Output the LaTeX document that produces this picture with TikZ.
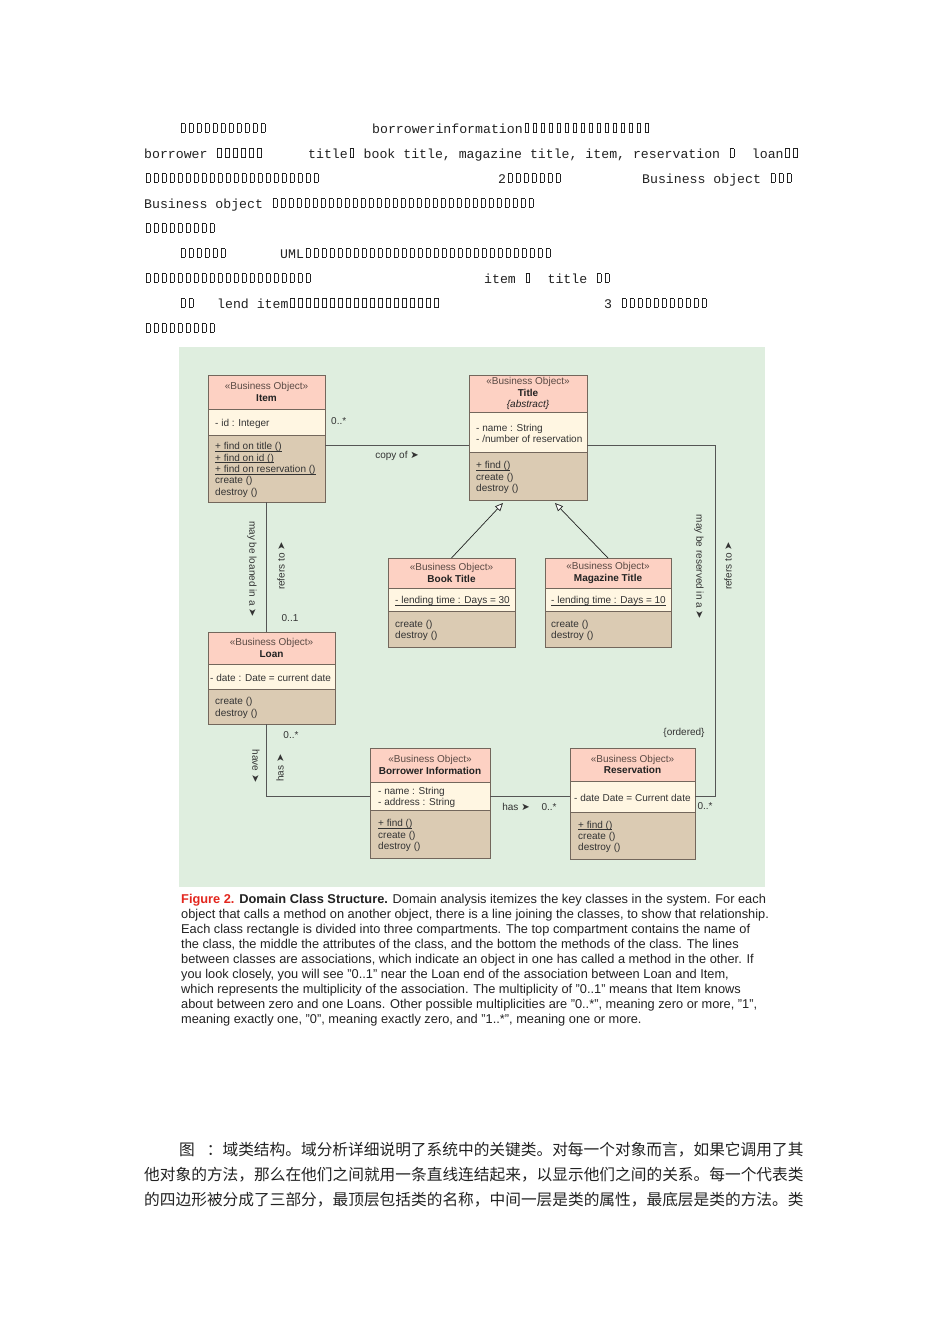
\documentclass[tikz,border=0pt]{standalone}
\usepackage{fontspec}
\setmainfont{Liberation Sans}
\setmonofont{Liberation Mono}
\newfontfamily\cjkfont{Noto Sans CJK SC}
\newfontfamily\glyphfont{DejaVu Sans}
\usetikzlibrary{arrows.meta,positioning}
\definecolor{PageInk}{HTML}{222222}
\definecolor{MemberInk}{HTML}{333333}
\definecolor{StereoInk}{HTML}{5A4A44}
\definecolor{FigRed}{HTML}{E3261E}
\definecolor{PanelGreen}{HTML}{DFEEDF}
\definecolor{HeadPink}{HTML}{FDD1C3}
\definecolor{AttrCream}{HTML}{FFF6E2}
\definecolor{OpsTan}{HTML}{DBCBB3}
\definecolor{BoxEdge}{HTML}{73675C}
\definecolor{LinkInk}{HTML}{555555}
% empty glyph boxes of the scanned paragraph
\newcommand\bx{\hbox to 8pt{\hss\vbox{\hrule height .6pt\hbox{\vrule width .6pt height 8.4pt\kern3.2pt\vrule width .6pt}\hrule height .6pt}\hss}}
\newcommand\bxs[1]{\foreach \k in {1,...,#1}{\bx}}
\newcommand\rtri{{\glyphfont\fontsize{10}{10}\selectfont ➤}}
\newcommand\uln[1]{\setbox0\hbox{#1}\rlap{\rule[-1.6pt]{\wd0}{0.5pt}}\box0}
\tikzset{
  every node/.style={text=PageInk},
  compart/.style={draw=BoxEdge, line width=0.9pt, inner sep=0pt, outer sep=0pt},
  head/.style={compart, fill=HeadPink, align=center, anchor=north west, font=\fontsize{10}{11.4}\selectfont},
  attrs/.style={compart, fill=AttrCream},
  ops/.style={compart, fill=OpsTan},
  member/.style={align=left, inner sep=0pt, anchor=west, yshift=-1.5pt, font=\fontsize{10}{11.4}\selectfont, text=MemberInk},
  assoc/.style={draw=LinkInk, line width=0.9pt},
  inherit/.style={-{Triangle[length=8pt,width=7pt,fill=white]}, draw=PageInk, line width=0.7pt},
  role/.style={font=\fontsize{10}{11}\selectfont, text=MemberInk, inner sep=0pt},
  scan/.style={font=\ttfamily\fontsize{13.2}{16}\selectfont, inner sep=0pt, anchor=base west},
  caption/.style={font=\fontsize{12.8}{15}\selectfont, inner sep=0pt, anchor=base west},
  zhline/.style={font=\cjkfont\fontsize{15.7}{20}\selectfont, inner sep=0pt, anchor=base west},
}
\newcommand\stereo{{\color{StereoInk}«Business Object»}}
\begin{document}
\begin{tikzpicture}[x=1pt,y=-1pt]
  \useasboundingbox (0,0) rectangle (950,1344);
  \fill[white] (0,0) rectangle (950,1344);

  % paragraph above the figure
  \node[scan] (p1a) at (179,133) {\bxs{11}};
  \node[scan] (p1b) at (372,133) {borrowerinformation\bxs{16}};
  \node[scan] (p2a) at (144,158) {borrower \bxs{6}};
  \node[scan] (p2b) at (308,158) {title\bx{} book title, magazine title, item, reservation \bx\ \ loan\bx\bx};
  \node[scan] (p3a) at (144,183) {\bxs{22}};
  \node[scan] (p3b) at (498,183) {2\bxs{7}};
  \node[scan] (p3c) at (642,183) {Business object \bxs{3}};
  \node[scan] (p4a) at (144,208) {Business object \bxs{33}};
  \node[scan] (p5a) at (144,233) {\bxs{9}};
  \node[scan] (p6a) at (179,258) {\bxs{6}};
  \node[scan] (p6b) at (280,258) {UML\bxs{31}};
  \node[scan] (p7a) at (144,283) {\bxs{21}};
  \node[scan] (p7b) at (484,283) {item \bx\ \ title \bx\bx};
  \node[scan] (p8a) at (179,308) {\bx\bx};
  \node[scan] (p8b) at (217,308) {lend item\bxs{19}};
  \node[scan] (p8c) at (604,308) {3 \bxs{11}};
  \node[scan] (p9a) at (144,333) {\bxs{9}};

  % figure panel
  \fill[PanelGreen] (179,347) rectangle (765,887);

  % Item
  \node[head, minimum width=117pt, minimum height=34pt] (itemH) at (208,375) {\stereo\\\textbf{Item}};
  \node[attrs, minimum width=117pt, minimum height=26pt, below=0pt of itemH] (itemA) {};
  \node[ops, minimum width=117pt, minimum height=67pt, below=0pt of itemA] (itemM) {};
  \node[member, right=7pt of itemA.west] {- id : Integer};
  \node[member, right=7pt of itemM.west] {\uln{+ find on title ()}\\\uln{+ find on id ()}\\\uln{+ find on reservation ()}\\create ()\\destroy ()};

  % Title
  \node[head, minimum width=118pt, minimum height=37pt] (titleH) at (469,375) {\stereo\\\textbf{Title}\\\textit{\{abstract\}}};
  \node[attrs, minimum width=118pt, minimum height=40pt, below=0pt of titleH] (titleA) {};
  \node[ops, minimum width=118pt, minimum height=48pt, below=0pt of titleA] (titleM) {};
  \node[member, right=7pt of titleA.west] {- name : String\\- /number of reservation};
  \node[member, right=7pt of titleM.west] {\uln{+ find ()}\\create ()\\destroy ()};

  % Book Title
  \node[head, minimum width=127pt, minimum height=30pt] (bookH) at (388,558) {\stereo\\\textbf{Book Title}};
  \node[attrs, minimum width=127pt, minimum height=23pt, below=0pt of bookH] (bookA) {};
  \node[ops, minimum width=127pt, minimum height=36pt, below=0pt of bookA] (bookM) {};
  \node[member, right=7pt of bookA.west] {\uln{- lending time : Days = 30}};
  \node[member, right=7pt of bookM.west] {create ()\\destroy ()};

  % Magazine Title
  \node[head, minimum width=126pt, minimum height=30pt] (magH) at (545,558) {\stereo\\\textbf{Magazine Title}};
  \node[attrs, minimum width=126pt, minimum height=23pt, below=0pt of magH] (magA) {};
  \node[ops, minimum width=126pt, minimum height=36pt, below=0pt of magA] (magM) {};
  \node[member, right=6pt of magA.west] {\uln{- lending time : Days = 10}};
  \node[member, right=6pt of magM.west] {create ()\\destroy ()};

  % Loan
  \node[head, minimum width=127pt, minimum height=32pt] (loanH) at (208,632) {\stereo\\\textbf{Loan}};
  \node[attrs, minimum width=127pt, minimum height=25pt, below=0pt of loanH] (loanA) {};
  \node[ops, minimum width=127pt, minimum height=35pt, below=0pt of loanA] (loanM) {};
  \node[member, right=2pt of loanA.west] {- date : Date = current date};
  \node[member, right=7pt of loanM.west] {create ()\\destroy ()};

  % Borrower Information
  \node[head, minimum width=120pt, minimum height=34pt] (borH) at (370,748) {\stereo\\\textbf{Borrower Information}};
  \node[attrs, minimum width=120pt, minimum height=28pt, below=0pt of borH] (borA) {};
  \node[ops, minimum width=120pt, minimum height=48pt, below=0pt of borA] (borM) {};
  \node[member, right=8pt of borA.west] {- name : String\\- address : String};
  \node[member, right=8pt of borM.west] {\uln{+ find ()}\\create ()\\destroy ()};

  % Reservation
  \node[head, minimum width=125pt, minimum height=33pt] (resH) at (570,748) {\stereo\\\textbf{Reservation}};
  \node[attrs, minimum width=125pt, minimum height=31pt, below=0pt of resH] (resA) {};
  \node[ops, minimum width=125pt, minimum height=47pt, below=0pt of resA] (resM) {};
  \node[member, right=4pt of resA.west] {- date Date = Current date};
  \node[member, right=8pt of resM.west] {\uln{+ find ()}\\create ()\\destroy ()};

  % associations
  \draw[assoc] ([yshift=-10pt]itemM.north east) -- ([yshift=-10pt]itemM.north east -| titleA.west);
  \draw[assoc] (itemM.south) -- (itemM.south |- loanH.north);
  \draw[assoc] (itemM.south |- loanM.south) |- (borA.west);
  \draw[assoc] (borA.east) -- (borA.east -| resA.west);
  \draw[assoc] ([yshift=7pt]titleA.south east) -- ++(128,0) |- (resA.east);

  % generalisations
  \draw[inherit] (bookH.north) -- ([xshift=-25pt,yshift=-3pt]titleM.south);
  \draw[inherit] (magH.north) -- ([xshift=27pt,yshift=-3pt]titleM.south);

  % role names and multiplicities
  \node[role, anchor=west] (mItem) at (331,421) {0..*};
  \node[role] (copyOf) at (397,456) {copy of \rtri};
  \node[role, rotate=-90] (loanedIn) at (252,569) {may be loaned in a \rtri};
  \node[role, rotate=90] (refersA) at (281,566) {refers to \rtri};
  \node[role] (mLoan) at (290,618) {0..1};
  \node[role] (mLoanB) at (291,735) {0..*};
  \node[role, rotate=-90] (have) at (256,766) {have \rtri};
  \node[role, rotate=90] (hasA) at (280,768) {has \rtri};
  \node[role] (hasB) at (516,807) {has \rtri};
  \node[role] (mRes) at (549,807) {0..*};
  \node[role] (mResB) at (705,806) {0..*};
  \node[role] (ordered) at (684,733) {\{ordered\}};
  \node[role, rotate=-90] (reservedIn) at (699,567) {may be reserved in a \rtri};
  \node[role, rotate=90] (refersB) at (728,566) {refers to \rtri};

  % caption
  \node[caption] (c1) at (181,903) {{\color{FigRed}\bfseries Figure 2.} {\bfseries Domain Class Structure.} Domain analysis itemizes the key classes in the system. For each};
  \node[caption] (c2) at (181,918) {object that calls a method on another object, there is a line joining the classes, to show that relationship.};
  \node[caption] (c3) at (181,933) {Each class rectangle is divided into three compartments. The top compartment contains the name of};
  \node[caption] (c4) at (181,948) {the class, the middle the attributes of the class, and the bottom the methods of the class. The lines};
  \node[caption] (c5) at (181,963) {between classes are associations, which indicate an object in one has called a method in the other. If};
  \node[caption] (c6) at (181,978) {you look closely, you will see "0..1" near the Loan end of the association between Loan and Item,};
  \node[caption] (c7) at (181,993) {which represents the multiplicity of the association. The multiplicity of "0..1" means that Item knows};
  \node[caption] (c8) at (181,1008) {about between zero and one Loans. Other possible multiplicities are "0..*", meaning zero or more, "1",};
  \node[caption] (c9) at (181,1023) {meaning exactly one, "0", meaning exactly zero, and "1..*", meaning one or more.};

  % Chinese paragraph below
  \node[zhline] (z1) at (179,1155) {图\hspace{12pt}：域类结构。域分析详细说明了系统中的关键类。对每一个对象而言，如果它调用了其};
  \node[zhline] (z2) at (144,1180) {他对象的方法，那么在他们之间就用一条直线连结起来，以显示他们之间的关系。每一个代表类};
  \node[zhline] (z3) at (144,1205) {的四边形被分成了三部分，最顶层包括类的名称，中间一层是类的属性，最底层是类的方法。类};
\end{tikzpicture}
\end{document}
